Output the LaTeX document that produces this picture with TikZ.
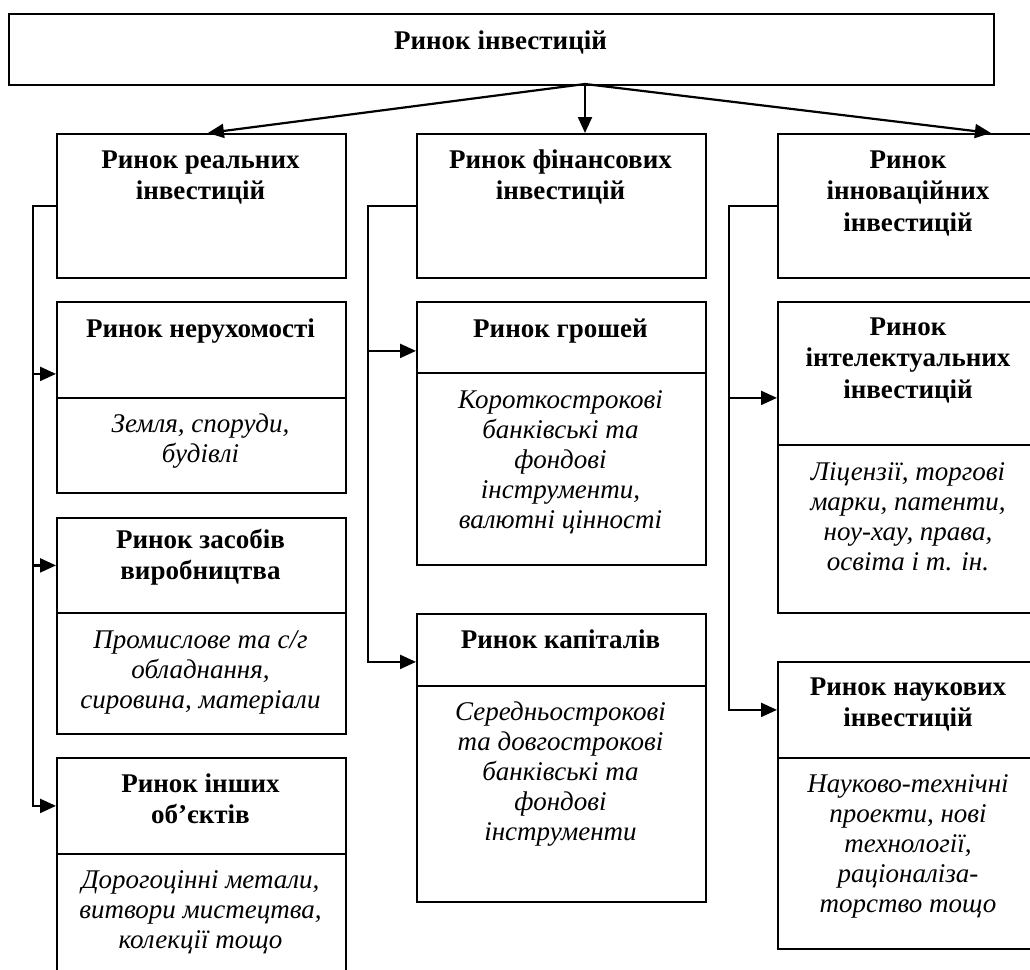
\documentclass[tikz,border=0pt]{standalone}
\usepackage{fontspec}
\setmainfont{Liberation Serif}
\usetikzlibrary{arrows.meta}
\newcommand\hdtext[1]{\parbox[t]{300pt}{\centering\bfseries\fontsize{27}{31.5}\selectfont #1}}
\newcommand\dstext[1]{\parbox[t]{300pt}{\centering\itshape\fontsize{27}{30}\selectfont #1}}
\begin{document}
\begin{tikzpicture}[x=1pt,y=-1pt,
  frame/.style={draw, line width=1.8pt, inner sep=0pt, anchor=north west},
  txt/.style={inner sep=0pt, anchor=base},
  arr/.style={line width=2.2pt, -{Triangle[length=16pt,width=14pt]}}]
\useasboundingbox (0,0) rectangle (1030,969);
\clip (0,0) rectangle (1030,969);
% top box
\node[frame, minimum width=985pt, minimum height=71.3pt] (top) at (8,12.7) {};
\node[txt] (topt) at (500.5,49) {\hdtext{Ринок інвестицій}};
% left column
\node[frame, minimum width=289pt, minimum height=144pt] (L0) at (56,133) {};
\node[frame, minimum width=289pt, minimum height=96pt] (L1h) at (56,301) {};
\node[frame, minimum width=289pt, minimum height=95pt] (L1d) at (56,397) {};
\node[frame, minimum width=289pt, minimum height=95pt] (L2h) at (56,517) {};
\node[frame, minimum width=289pt, minimum height=121pt] (L2d) at (56,612) {};
\node[frame, minimum width=289pt, minimum height=96pt] (L3h) at (56,757) {};
\node[frame, minimum width=289pt, minimum height=150pt] (L3d) at (56,853) {};
\node[txt] (L0t) at (200.5,168) {\hdtext{Ринок реальних\\інвестицій}};
\node[txt] (L1t) at (200.5,337) {\hdtext{Ринок нерухомості}};
\node[txt] (L1s) at (200.5,432) {\dstext{Земля, споруди,\\будівлі}};
\node[txt] (L2t) at (200.5,548) {\hdtext{Ринок засобів\\виробництва}};
\node[txt] (L2s) at (200.5,648) {\dstext{Промислове та с/г\\обладнання,\\сировина, матеріали}};
\node[txt] (L3t) at (200.5,792) {\hdtext{Ринок інших\\об’єктів}};
\node[txt] (L3s) at (200.5,888) {\dstext{Дорогоцінні метали,\\витвори мистецтва,\\колекції тощо}};
% middle column
\node[frame, minimum width=289pt, minimum height=144pt] (M0) at (416,133) {};
\node[frame, minimum width=289pt, minimum height=71pt] (M1h) at (416,301) {};
\node[frame, minimum width=289pt, minimum height=192pt] (M1d) at (416,372) {};
\node[frame, minimum width=289pt, minimum height=72pt] (M2h) at (416,613) {};
\node[frame, minimum width=289pt, minimum height=216pt] (M2d) at (416,685) {};
\node[txt] (M0t) at (560.5,168) {\hdtext{Ринок фінансових\\інвестицій}};
\node[txt] (M1t) at (560.5,337) {\hdtext{Ринок грошей}};
\node[txt] (M1s) at (560.5,408) {\dstext{Короткострокові\\банківські та\\фондові\\інструменти,\\валютні цінності}};
\node[txt] (M2t) at (560.5,648) {\hdtext{Ринок капіталів}};
\node[txt] (M2s) at (560.5,720) {\dstext{Середньострокові\\та довгострокові\\банківські та\\фондові\\інструменти}};
% right column
\node[frame, minimum width=263pt, minimum height=144pt] (R0) at (777,133) {};
\node[frame, minimum width=263pt, minimum height=143pt] (R1h) at (777,301) {};
\node[frame, minimum width=263pt, minimum height=168pt] (R1d) at (777,444) {};
\node[frame, minimum width=263pt, minimum height=96pt] (R2h) at (777,661) {};
\node[frame, minimum width=263pt, minimum height=191pt] (R2d) at (777,757) {};
\node[txt] (R0t) at (908,168) {\hdtext{Ринок\\інноваційних\\інвестицій}};
\node[txt] (R1t) at (908,335) {\hdtext{Ринок\\інтелектуальних\\інвестицій}};
\node[txt] (R1s) at (908,480) {\dstext{Ліцензії, торгові\\марки, патенти,\\ноу-хау, права,\\освіта і т. ін.}};
\node[txt] (R2t) at (908,695) {\hdtext{Ринок наукових\\інвестицій}};
\node[txt] (R2s) at (908,792) {\dstext{Науково-технічні\\проекти, нові\\технології,\\раціоналіза-\\торство тощо}};
% arrows from the top box
\coordinate (fork) at (585,84);
\draw[arr] (fork) -- ([xshift=6.5pt]L0.north);
\draw[arr] (fork) -- (fork |- M0.north);
\draw[arr] (fork) -- ([xshift=81.5pt]R0.north);
% left branches
\draw[arr] (L0.west) -- ++(-23,0) |- (L3h.west);
\draw[arr] (L0.west) -- ++(-23,0) |- ([yshift=-24pt]L1h.west);
\draw[arr] (L0.west) -- ++(-23,0) |- (L2h.west);
% middle branches
\draw[arr] (M0.west) -- ++(-48,0) |- ([yshift=-12pt]M2h.west);
\draw[arr] (M0.west) -- ++(-48,0) |- ([yshift=-13.5pt]M1h.west);
% right branches
\draw[arr] (R0.west) -- ++(-48,0) |- (R2h.west);
\draw[arr] (R0.west) -- ++(-48,0) |- ([yshift=-24.5pt]R1h.west);
\end{tikzpicture}
\end{document}
